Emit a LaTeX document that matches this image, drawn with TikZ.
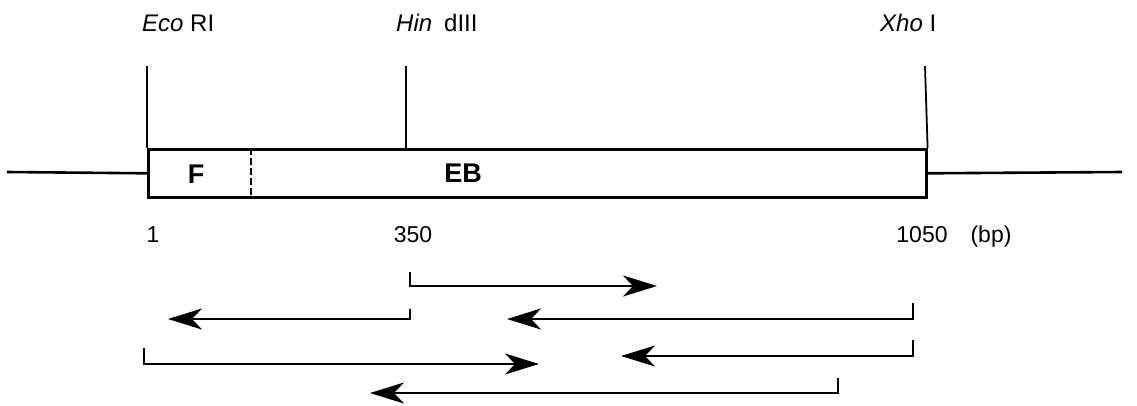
\documentclass[tikz,border=0pt]{standalone}
\usepackage{fontspec}
\setmainfont{Liberation Sans}
\usetikzlibrary{arrows.meta}
\begin{document}
\begin{tikzpicture}[x=1pt,y=-1pt,
  lbl/.style={font=\fontsize{24}{27}\selectfont, inner sep=0pt, anchor=base west},
  num/.style={font=\fontsize{23}{26}\selectfont, inner sep=0pt, anchor=base},
  seg/.style={font=\fontsize{27}{30}\selectfont\bfseries, inner sep=0pt},
  site/.style={line width=1.8pt},
  dna/.style={line width=2.6pt},
  read/.style={line width=2.6pt, line join=miter, -{Stealth[length=34pt,width=21pt,inset=10pt]}}]
\useasboundingbox (0,0) rectangle (1137,405);

% insert box
\node[draw, dna, minimum width=778pt, minimum height=48pt, anchor=north west, inner sep=0pt] (box) at (147,148) {};
\coordinate (L) at (7,172);
\coordinate (R) at (1122,172);
\draw[dna] (L) -- (box.west);
\draw[dna] (box.east) -- (R);

% dashed boundary F / EB
\coordinate (dT) at (251,148);
\coordinate (dB) at (251,196);
\draw[line width=2.2pt, dash pattern=on 7pt off 3pt] (dT) -- (dB);

\node[seg] (F) at (196,174) {F};
\node[seg] (EB) at (463,173) {EB};

% restriction sites
\coordinate (ecoT) at (147,66);
\coordinate (hinT) at (406,66);
\coordinate (hinB) at (406,148);
\coordinate (xhoT) at (925,66);
\draw[site] (ecoT) -- (box.north west);
\draw[site] (hinT) -- (hinB);
\draw[site] (xhoT) -- (box.north east);

\node[lbl] (eco) at (142,31) {\textit{Eco} RI};
\node[lbl] (hin) at (396,31) {\textit{Hin}\hspace{0.5em}dIII};
\node[lbl] (xho) at (880,31) {\textit{Xho} I};

% coordinates
\node[num] (n1) at (153,242) {1};
\node[num] (n350) at (413,242) {350};
\node[num] (n1050) at (922,242) {1050};
\node[num] (bp) at (991,242) {(bp)};

% sequencing reads
\coordinate (a1) at (410,272); \coordinate (a2) at (410,286); \coordinate (a3) at (657,286);
\draw[read] (a1) -- (a2) -- (a3);

\coordinate (b1) at (410,309); \coordinate (b2) at (410,319); \coordinate (b3) at (168,319);
\draw[read] (b1) -- (b2) -- (b3);

\coordinate (c1) at (913,303); \coordinate (c2) at (913,319); \coordinate (c3) at (507,319);
\draw[read] (c1) -- (c2) -- (c3);

\coordinate (d1) at (144,348); \coordinate (d2) at (144,364); \coordinate (d3) at (539,364);
\draw[read] (d1) -- (d2) -- (d3);

\coordinate (e1) at (913,340); \coordinate (e2) at (913,356); \coordinate (e3) at (621,356);
\draw[read] (e1) -- (e2) -- (e3);

\coordinate (f1) at (838,378); \coordinate (f2) at (838,393); \coordinate (f3) at (370,393);
\draw[read] (f1) -- (f2) -- (f3);
\end{tikzpicture}
\end{document}
